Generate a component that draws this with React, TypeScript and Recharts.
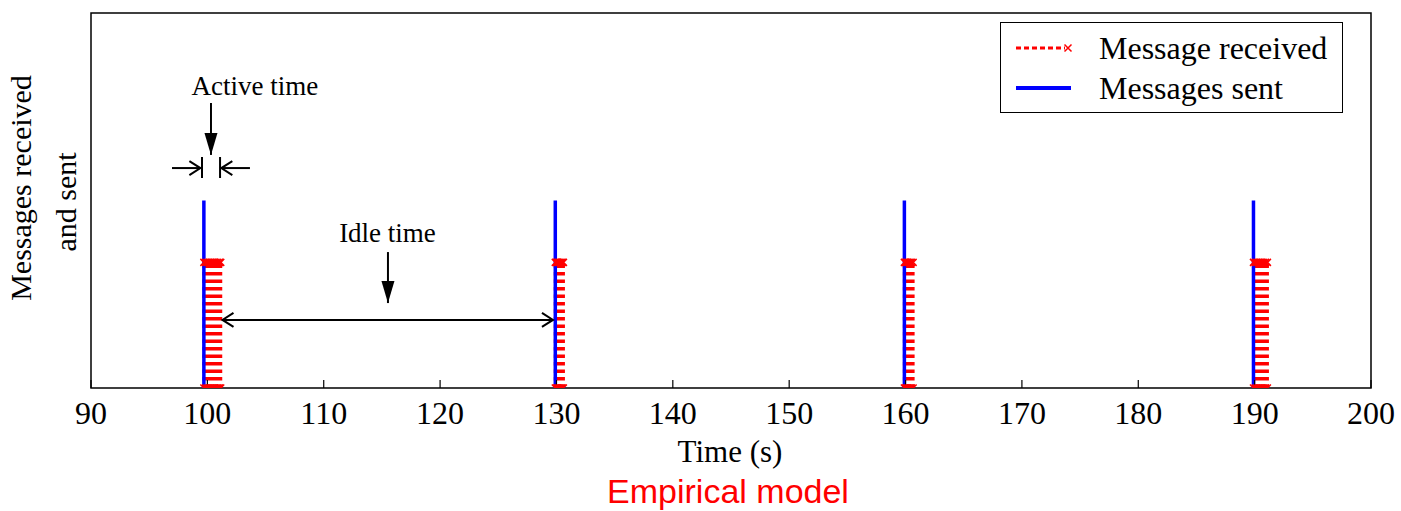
import {
  ComposedChart,
  Legend,
  Line,
  ReferenceArea,
  ReferenceDot,
  ReferenceLine,
  XAxis,
  YAxis,
} from "recharts";

// time axis ticks (s)
const xTicks = [90, 100, 110, 120, 130, 140, 150, 160, 170, 180, 190, 200];

// each burst: the sent pulse and the window it covers
const burstStarts = [99.7, 129.9, 159.9, 189.9];
const burstEnds = [101.2, 130.75, 160.75, 191.2];
const sentLevel = 1;
const receivedLevel = 0.67;

// times at which messages are received, one list per burst
const received1 = [99.7, 99.85, 100.0, 100.15, 100.3, 100.45, 100.6, 100.75, 100.9, 101.05, 101.15];
const received2 = [129.9, 130.0, 130.1, 130.2, 130.3, 130.4, 130.5, 130.6];
const received3 = [159.9, 160.0, 160.1, 160.2, 160.3, 160.4, 160.5, 160.65];
const received4 = [189.9, 190.05, 190.2, 190.35, 190.5, 190.65, 190.8, 190.95, 191.1];

const serif = "'Liberation Serif', 'Times New Roman', serif";

type Pt = { t: number; v: number | null };

const receivedPoints: Pt[] = [received1, received2, received3, received4]
  .flat()
  .flatMap((t) => [
    { t, v: 0 },
    { t, v: receivedLevel },
    { t, v: null },
  ]);

const sentPoints: Pt[] = burstStarts.flatMap((s, i) => [
  { t: s, v: 0 },
  { t: s, v: sentLevel },
  { t: s, v: 0 },
  { t: burstEnds[i], v: 0 },
  { t: burstEnds[i], v: null },
]);

function CrossDot(props: any) {
  const { cx, cy, payload, index } = props;
  if (payload?.v == null || cx == null || cy == null) return <g key={index} />;
  const s = 3.5;
  return (
    <path
      key={index}
      d={`M${cx - s},${cy - s}L${cx + s},${cy + s}M${cx - s},${cy + s}L${cx + s},${cy - s}`}
      stroke="#ff0000"
      strokeWidth={1.5}
      fill="none"
    />
  );
}

function arrow(kind: "filled" | "open" | "double" | "bar") {
  return (p: any) => {
    const { x1, y1, x2, y2 } = p;
    const ang = Math.atan2(y2 - y1, x2 - x1);
    const head = (x: number, y: number, a: number, filled: boolean) => {
      const len = filled ? 22 : 11;
      const half = filled ? 6.5 : 7;
      const bx = x - len * Math.cos(a);
      const by = y - len * Math.sin(a);
      const px = -Math.sin(a) * half;
      const py = Math.cos(a) * half;
      return filled ? (
        <path d={`M${x},${y}L${bx + px},${by + py}L${bx - px},${by - py}Z`} fill="#000" />
      ) : (
        <path
          d={`M${bx + px},${by + py}L${x},${y}L${bx - px},${by - py}`}
          stroke="#000"
          strokeWidth={2}
          fill="none"
        />
      );
    };
    return (
      <g>
        <line x1={x1} y1={y1} x2={x2} y2={y2} stroke="#000" strokeWidth={2} />
        {kind === "filled" && head(x2, y2, ang, true)}
        {kind === "open" && head(x2, y2, ang, false)}
        {kind === "double" && head(x2, y2, ang, false)}
        {kind === "double" && head(x1, y1, ang + Math.PI, false)}
      </g>
    );
  };
}

function label(text: string) {
  return (p: any) => (
    <text x={p.cx} y={p.cy} textAnchor="middle" fontFamily={serif} fontSize={27} fill="#000">
      {text}
    </text>
  );
}

function LegendBox() {
  return (
    <div
      style={{
        width: 341,
        height: 89,
        border: "1.5px solid #000",
        background: "#fff",
        position: "relative",
        fontFamily: serif,
        fontSize: 32,
        color: "#000",
      }}
    >
      <svg width={90} height={89} style={{ position: "absolute", left: 0, top: 0 }}>
        <line x1={15} y1={25} x2={64} y2={25} stroke="#ff0000" strokeWidth={3} strokeDasharray="5 3" />
        <path d="M63.5,21.5L70.5,28.5M63.5,28.5L70.5,21.5" stroke="#ff0000" strokeWidth={1.5} />
        <line x1={15} y1={65} x2={70} y2={65} stroke="#0000ff" strokeWidth={4} />
      </svg>
      <div style={{ position: "absolute", left: 98, top: 7, lineHeight: "36px" }}>Message received</div>
      <div style={{ position: "absolute", left: 98, top: 47, lineHeight: "36px" }}>Messages sent</div>
    </div>
  );
}

export default function App() {
  return (
    <div style={{ position: "absolute", left: 0, top: 0, width: 1401, height: 511, background: "#fff" }}>
      <ComposedChart
        width={1401}
        height={511}
        margin={{ top: 13, right: 30, bottom: 83, left: 91 }}
      >
        <XAxis
          type="number"
          dataKey="t"
          domain={[90, 200]}
          ticks={xTicks}
          allowDataOverflow
          height={40}
          axisLine={false}
          tickLine={{ stroke: "#000", strokeWidth: 1.2 }}
          tickSize={-8}
          tickMargin={21}
          tick={{ fontSize: 32, fill: "#000", fontFamily: serif }}
        />
        <XAxis
          xAxisId="top"
          orientation="top"
          type="number"
          dataKey="t"
          domain={[90, 200]}
          ticks={xTicks}
          allowDataOverflow
          height={0}
          axisLine={false}
          tickLine={{ stroke: "#000", strokeWidth: 1.2 }}
          tickSize={-8}
          tick={false}
        />
        <YAxis type="number" domain={[0, 2]} hide allowDataOverflow />
        <ReferenceArea x1={90} x2={200} y1={0} y2={2} fill="none" stroke="#000" strokeWidth={1.5} fillOpacity={0} />

        <Line
          data={receivedPoints}
          dataKey="v"
          type="linear"
          stroke="#ff0000"
          strokeWidth={3}
          strokeDasharray="3.5 4"
          dot={CrossDot}
          activeDot={false}
          connectNulls={false}
          isAnimationActive={false}
          legendType="none"
        />
        <Line
          data={sentPoints}
          dataKey="v"
          type="linear"
          stroke="#0000ff"
          strokeWidth={3.5}
          dot={false}
          activeDot={false}
          connectNulls={false}
          isAnimationActive={false}
          legendType="none"
        />

        {/* annotations */}
        <ReferenceDot x={104.09} y={1.563} r={0} shape={label("Active time")} />
        <ReferenceLine segment={[{ x: 100.31, y: 1.52 }, { x: 100.31, y: 1.243 }]} shape={arrow("filled")} />
        <ReferenceLine segment={[{ x: 96.96, y: 1.173 }, { x: 99.4, y: 1.173 }]} shape={arrow("open")} />
        <ReferenceLine segment={[{ x: 99.54, y: 1.232 }, { x: 99.54, y: 1.12 }]} shape={arrow("bar")} />
        <ReferenceLine segment={[{ x: 103.66, y: 1.173 }, { x: 101.2, y: 1.173 }]} shape={arrow("open")} />
        <ReferenceLine segment={[{ x: 101.09, y: 1.232 }, { x: 101.09, y: 1.12 }]} shape={arrow("bar")} />
        <ReferenceDot x={115.48} y={0.779} r={0} shape={label("Idle time")} />
        <ReferenceLine segment={[{ x: 115.52, y: 0.725 }, { x: 115.52, y: 0.453 }]} shape={arrow("filled")} />
        <ReferenceLine segment={[{ x: 101.3, y: 0.363 }, { x: 129.7, y: 0.363 }]} shape={arrow("double")} />

        <Legend
          layout="vertical"
          align="center"
          verticalAlign="middle"
          content={() => <LegendBox />}
          wrapperStyle={{ left: 1000, top: 22, width: 343, height: 91 }}
        />
      </ComposedChart>

      <svg width={1401} height={511} style={{ position: "absolute", left: 0, top: 0, pointerEvents: "none" }}>
        <text x={730} y={462} textAnchor="middle" fontFamily={serif} fontSize={31} fill="#000">
          Time (s)
        </text>
        <text
          x={728}
          y={503}
          textAnchor="middle"
          fontFamily="'Liberation Sans', Arial, sans-serif"
          fontSize={34}
          fill="#ff0000"
        >
          Empirical model
        </text>
        <text transform="translate(31,188) rotate(-90)" textAnchor="middle" fontFamily={serif} fontSize={30} fill="#000">
          Messages received
        </text>
        <text transform="translate(76,202) rotate(-90)" textAnchor="middle" fontFamily={serif} fontSize={30} fill="#000">
          and sent
        </text>
      </svg>
    </div>
  );
}
